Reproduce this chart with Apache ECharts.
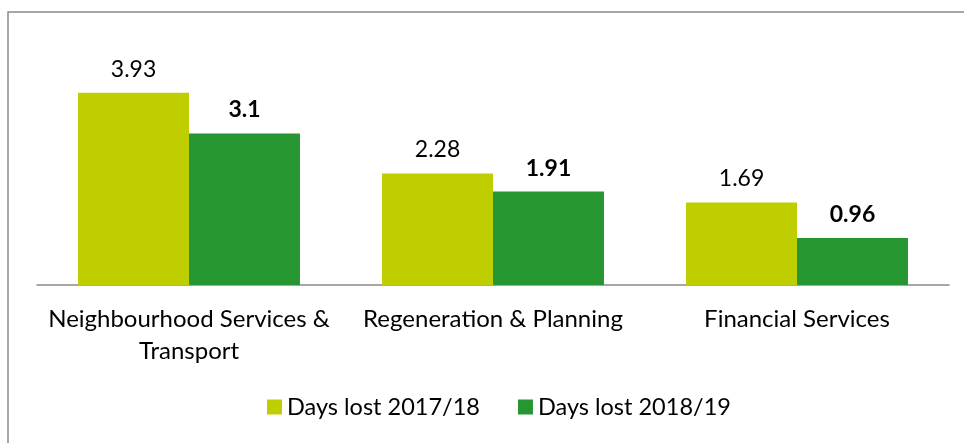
<!DOCTYPE html>
<html>
<head>
<meta charset="utf-8">
<style>
  html, body { margin: 0; padding: 0; background: #fff; }
  #chart { width: 964px; height: 443px; }
</style>
<script src="https://cdn.jsdelivr.net/npm/echarts@6/dist/echarts.min.js"></script>
</head>
<body>
<div id="chart"></div>
<script>
const categories = ['Neighbourhood Services &\nTransport', 'Regeneration & Planning', 'Financial Services']
const days1718 = [3.93, 2.28, 1.69]
const days1819 = [3.1, 1.91, 0.96]
const seriesNames = ['Days lost 2017/18', 'Days lost 2018/19']

const FONT = 'Lato'
const chart = echarts.init(document.getElementById('chart'))

const option = {
  animation: false,
  backgroundColor: '#fff',
  textStyle: { fontFamily: FONT },
  graphic: [
    {
      type: 'rect',
      shape: { x: 8, y: 12, width: 1000, height: 500 },
      style: { fill: 'none', stroke: '#8a8a8a', lineWidth: 1.5 },
      silent: true
    }
  ],
  legend: {
    bottom: 19,
    left: 262,
    itemWidth: 15,
    itemHeight: 15,
    itemGap: 38,
    icon: 'rect',
    textStyle: { fontFamily: FONT, fontSize: 23.5, color: '#000' },
    data: seriesNames
  },
  grid: {
    left: 37,
    right: 15,
    top: 65,
    bottom: 158
  },
  xAxis: {
    type: 'category',
    data: categories,
    axisLine: { lineStyle: { color: '#8a8a8a', width: 1.5 } },
    axisTick: { show: false },
    axisLabel: {
      color: '#000',
      fontFamily: FONT,
      fontSize: 24,
      lineHeight: 32,
      margin: 18,
      interval: 0
    }
  },
  yAxis: {
    type: 'value',
    min: 0,
    max: 4.5,
    show: false,
    splitLine: { show: false }
  },
  series: [
    {
      name: seriesNames[0],
      type: 'bar',
      data: days1718,
      barCategoryGap: '27%',
      barGap: '0%',
      itemStyle: { color: '#bfce00' },
      label: {
        show: true,
        position: 'top',
        distance: 12,
        color: '#000',
        fontFamily: FONT,
        fontSize: 23
      }
    },
    {
      name: seriesNames[1],
      type: 'bar',
      data: days1819,
      barCategoryGap: '27%',
      barGap: '0%',
      itemStyle: { color: '#259632' },
      label: {
        show: true,
        position: 'top',
        distance: 12,
        color: '#000',
        fontWeight: 'bold',
        fontFamily: FONT,
        fontSize: 23
      }
    }
  ]
}

chart.setOption(option)
</script>
</body>
</html>
